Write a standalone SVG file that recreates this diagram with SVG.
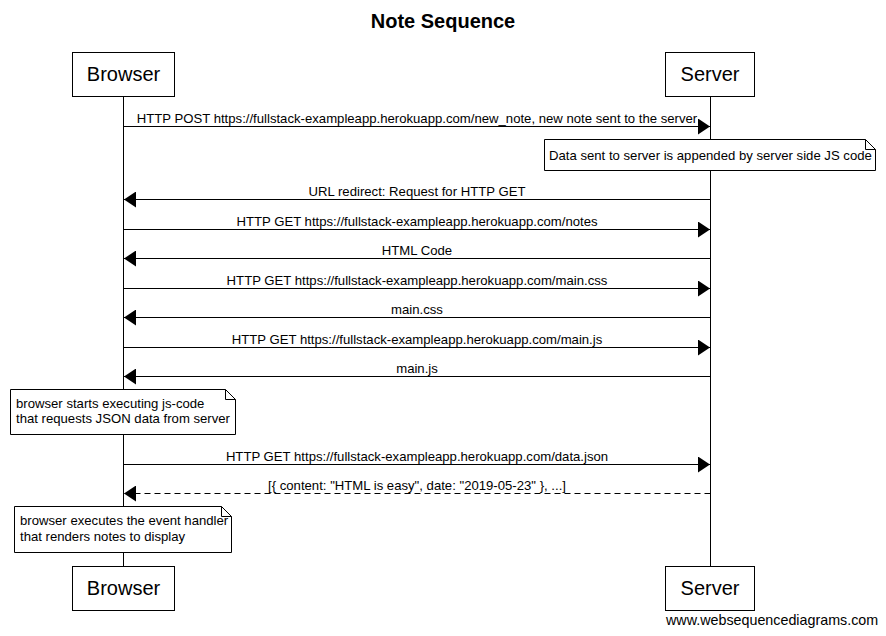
<svg xmlns="http://www.w3.org/2000/svg" width="886" height="636" viewBox="0 0 886 636">
<style>
text{font-family:"Liberation Sans",Arial,sans-serif;fill:#000}
.box{fill:#fff;stroke:#000;stroke-width:1}
.pl{font-size:20px;text-anchor:middle}
.lbl{font-size:13.15px;text-anchor:middle}
.nt{font-size:13.15px}
.life{stroke:#000;stroke-width:1}
.msg{stroke:#000;stroke-width:1;fill:none}
.dash{stroke-dasharray:6,4}
</style>
<defs>
<marker id="ah" markerWidth="12" markerHeight="16" refX="12" refY="8" orient="auto" markerUnits="userSpaceOnUse">
<path d="M0,0 L12,8 L0,16 Z" fill="#000"/>
</marker>
</defs>
<rect width="886" height="636" fill="#fff"/>
<text x="443" y="28" font-size="20" font-weight="bold" text-anchor="middle">Note Sequence</text>
<g id="lifelines">
<line class="life" x1="123.5" y1="96" x2="123.5" y2="566"/>
<line class="life" x1="710.5" y1="96" x2="710.5" y2="566"/>
</g>
<g id="browser-top"><rect class="box" x="72.5" y="52.5" width="102" height="44"/><text class="pl" x="123.5" y="81">Browser</text></g>
<g id="server-top"><rect class="box" x="665.5" y="52.5" width="89" height="44"/><text class="pl" x="710" y="81">Server</text></g>
<g id="browser-bottom"><rect class="box" x="72.5" y="566.5" width="102" height="44"/><text class="pl" x="123.5" y="595">Browser</text></g>
<g id="server-bottom"><rect class="box" x="665.5" y="566.5" width="89" height="44"/><text class="pl" x="710" y="595">Server</text></g>
<g id="connectors">
<line class="msg" x1="123.5" y1="126.5" x2="710" y2="126.5" marker-end="url(#ah)"/>
<text class="lbl" x="417" y="122.5">HTTP POST https://fullstack-exampleapp.herokuapp.com/new_note, new note sent to the server</text>
<line class="msg" x1="710.5" y1="199.5" x2="124" y2="199.5" marker-end="url(#ah)"/>
<text class="lbl" x="417" y="195.5">URL redirect: Request for HTTP GET</text>
<line class="msg" x1="123.5" y1="229.5" x2="710" y2="229.5" marker-end="url(#ah)"/>
<text class="lbl" x="417" y="225.5">HTTP GET https://fullstack-exampleapp.herokuapp.com/notes</text>
<line class="msg" x1="710.5" y1="258.5" x2="124" y2="258.5" marker-end="url(#ah)"/>
<text class="lbl" x="417" y="254.5">HTML Code</text>
<line class="msg" x1="123.5" y1="288.5" x2="710" y2="288.5" marker-end="url(#ah)"/>
<text class="lbl" x="417" y="284.5">HTTP GET https://fullstack-exampleapp.herokuapp.com/main.css</text>
<line class="msg" x1="710.5" y1="317.5" x2="124" y2="317.5" marker-end="url(#ah)"/>
<text class="lbl" x="417" y="313.5">main.css</text>
<line class="msg" x1="123.5" y1="347.5" x2="710" y2="347.5" marker-end="url(#ah)"/>
<text class="lbl" x="417" y="343.5">HTTP GET https://fullstack-exampleapp.herokuapp.com/main.js</text>
<line class="msg" x1="710.5" y1="376.5" x2="124" y2="376.5" marker-end="url(#ah)"/>
<text class="lbl" x="417" y="372.5">main.js</text>
<line class="msg" x1="123.5" y1="464.5" x2="710" y2="464.5" marker-end="url(#ah)"/>
<text class="lbl" x="417" y="460.5">HTTP GET https://fullstack-exampleapp.herokuapp.com/data.json</text>
<line class="msg dash" x1="710.5" y1="493.5" x2="124" y2="493.5" marker-end="url(#ah)"/>
<text class="lbl" x="417" y="489.5">[{ content: "HTML is easy", date: "2019-05-23" }, ...]</text>
</g>
<g id="note-server">
<path class="box" d="M544.5,139.5 H865.5 L875.5,149.5 V170.5 H544.5 Z"/>
<path class="msg" d="M865.5,139.5 V149.5 H875.5"/>
<text class="nt" x="549" y="160">Data sent to server is appended by server side JS code</text>
</g>
<g id="note-browser-1">
<path class="box" d="M10.5,389.5 H225.5 L235.5,399.5 V434.5 H10.5 Z"/>
<path class="msg" d="M225.5,389.5 V399.5 H235.5"/>
<text class="nt" x="16" y="408">browser starts executing js-code</text>
<text class="nt" x="16" y="423">that requests JSON data from server</text>
</g>
<g id="note-browser-2">
<path class="box" d="M14.5,506.5 H221.5 L231.5,516.5 V552.5 H14.5 Z"/>
<path class="msg" d="M221.5,506.5 V516.5 H231.5"/>
<text class="nt" x="20" y="525">browser executes the event handler</text>
<text class="nt" x="20" y="541">that renders notes to display</text>
</g>
<text x="666" y="625" font-size="14.3">www.websequencediagrams.com</text>
</svg>
